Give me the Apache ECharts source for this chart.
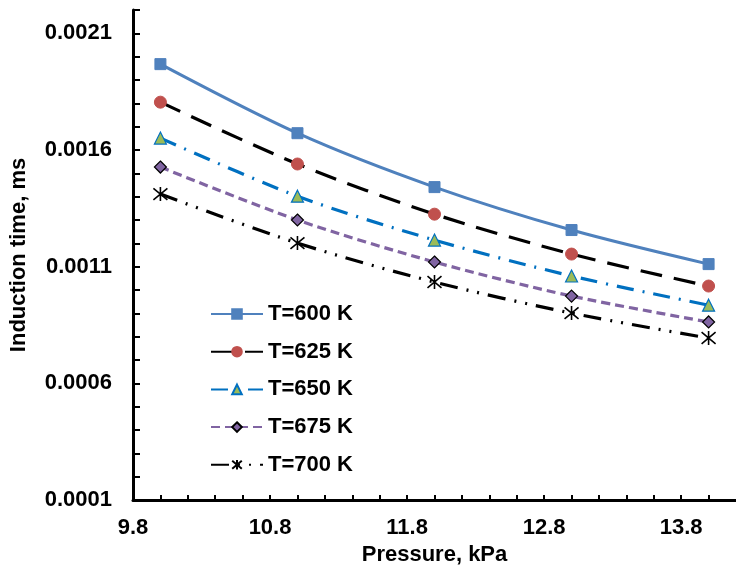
<!DOCTYPE html>
<html>
<head>
<meta charset="utf-8">
<script src="https://cdn.jsdelivr.net/npm/echarts@6/dist/echarts.min.js"></script>
<style>html,body{margin:0;padding:0;background:#fff;}#c{width:736px;height:572px;}</style>
</head>
<body>
<div id="c"></div>
<script>
const pressure = [10, 11, 12, 13, 14];
const seriesNames = ['T=600 K', 'T=625 K', 'T=650 K', 'T=675 K', 'T=700 K'];
const t600 = [0.001968, 0.001672, 0.001441, 0.001257, 0.001111];
const t625 = [0.001805, 0.001540, 0.001325, 0.001154, 0.001017];
const t650 = [0.001651, 0.001402, 0.001214, 0.001060, 0.000935];
const t675 = [0.001527, 0.001300, 0.001120, 0.000974, 0.000863];
const t700 = [0.001411, 0.001201, 0.001034, 0.000901, 0.000794];
const xTickLabels = ['9.8', '10.8', '11.8', '12.8', '13.8'];
const yTickLabels = ['0.0001', '0.0006', '0.0011', '0.0016', '0.0021'];

const FONT = '"Liberation Sans", Arial, sans-serif';
const pair = v => pressure.map((x, i) => [x, v[i]]);
const asterisk = 'path://M0,0L10,10M10,0L0,10M5,-1L5,11';

const chart = echarts.init(document.getElementById('c'), null, {renderer: 'canvas'});
function mk(name, data, lineStyle, symbol, size, itemStyle) {
  return {
    name, type: 'line', data: pair(data), smooth: 0.3,
    symbol, symbolSize: size, lineStyle, itemStyle, z: 3
  };
}
chart.setOption({
  animation: false,
  backgroundColor: '#fff',
  grid: {left: 133, top: 10, width: 610, height: 490},
  legend: {
    orient: 'vertical', left: 205, top: 298, itemWidth: 52, itemHeight: 12, itemGap: 15.7,
    textStyle: {fontFamily: FONT, fontWeight: 'bold', fontSize: 22, color: '#000'},
    data: seriesNames
  },
  xAxis: {
    type: 'value', min: 9.8, max: 14.2, interval: 0.2,
    name: 'Pressure, kPa', nameLocation: 'middle', nameGap: 42,
    nameTextStyle: {fontFamily: FONT, fontWeight: 'bold', fontSize: 22, color: '#000'},
    axisLine: {lineStyle: {color: '#000', width: 3}},
    axisTick: {inside: true, length: 5, lineStyle: {color: '#000', width: 2}},
    splitLine: {show: false},
    axisLabel: {
      fontFamily: FONT, fontWeight: 'bold', fontSize: 22, color: '#000', margin: 17,
      showMaxLabel: false,
      formatter: v => { const s = v.toFixed(1); return xTickLabels.includes(s) ? s : ''; }
    }
  },
  yAxis: {
    type: 'value', min: 0.0001, max: 0.0022, interval: 0.0001,
    name: 'Induction time, ms', nameLocation: 'middle', nameGap: 103, nameRotate: 90,
    nameTextStyle: {fontFamily: FONT, fontWeight: 'bold', fontSize: 22, color: '#000'},
    axisLine: {show: true, lineStyle: {color: '#000', width: 3}},
    axisTick: {show: true, inside: true, length: 7, lineStyle: {color: '#000', width: 2}},
    splitLine: {show: false},
    axisLabel: {
      fontFamily: FONT, fontWeight: 'bold', fontSize: 22, color: '#000', margin: 21,
      formatter: v => { const s = v.toFixed(4); return yTickLabels.includes(s) ? s : ''; }
    }
  },
  series: [
    mk(seriesNames[0], t600, {color: '#4f81bd', width: 3, type: 'solid'}, 'rect', 11,
       {color: '#4f81bd', borderColor: '#4f81bd', borderWidth: 1}),
    mk(seriesNames[1], t625, {color: '#000', width: 3.2, type: [22, 12]}, 'circle', 12,
       {color: '#c0504d', borderColor: '#c0504d', borderWidth: 1}),
    mk(seriesNames[2], t650, {color: '#0070c0', width: 3.2, type: [17, 9, 2, 9]}, 'triangle', 12,
       {color: '#9bbb59', borderColor: '#0070c0', borderWidth: 1.2}),
    mk(seriesNames[3], t675, {color: '#8064a2', width: 3.2, type: [9, 5]}, 'diamond', 12,
       {color: '#8064a2', borderColor: '#000', borderWidth: 1.2}),
    mk(seriesNames[4], t700, {color: '#000', width: 3.2, type: [18, 9, 2, 9, 2, 9]}, asterisk, 14,
       {color: 'transparent', borderColor: '#000', borderWidth: 1.6})
  ]
});
</script>
</body>
</html>
